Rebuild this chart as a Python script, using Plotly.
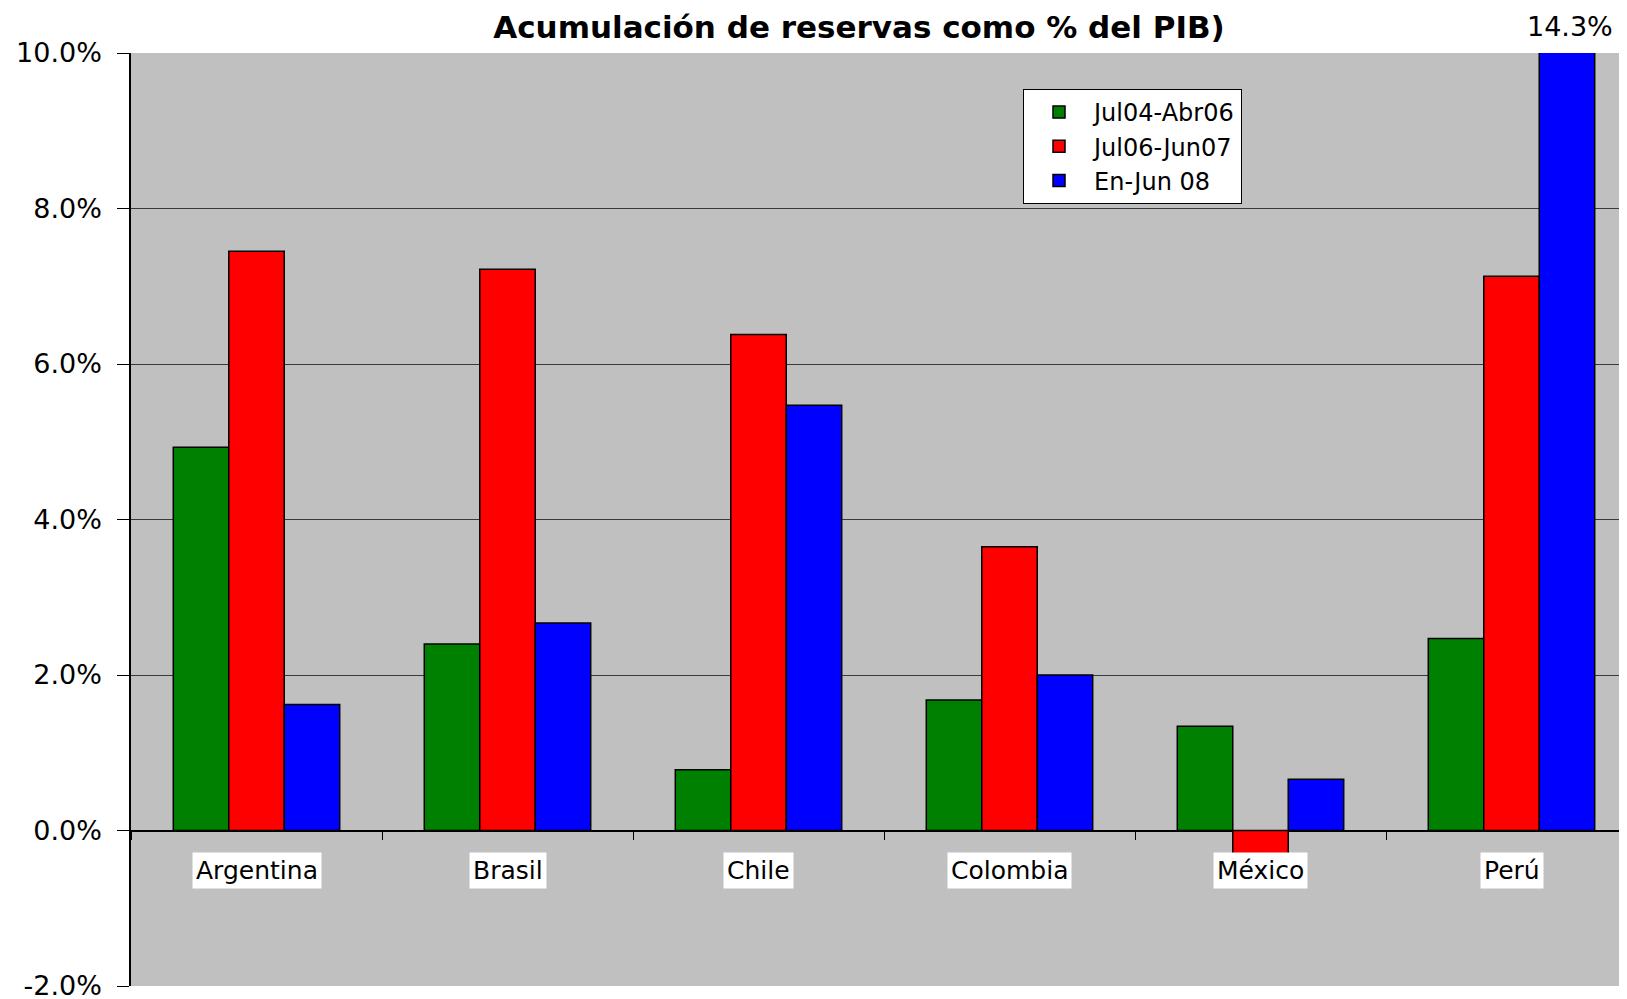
import plotly.graph_objects as go

categories = ["Argentina", "Brasil", "Chile", "Colombia", "México", "Perú"]
series_names = ["Jul04-Abr06", "Jul06-Jun07", "En-Jun 08"]
jul04_abr06 = [4.93, 2.40, 0.78, 1.68, 1.34, 2.47]
jul06_jun07 = [7.45, 7.22, 6.38, 3.65, -0.30, 7.13]
en_jun08 = [1.62, 2.67, 5.47, 2.00, 0.66, 14.3]
colors = ["#008000", "#FF0000", "#0000FF"]
y_ticks = [-2, 0, 2, 4, 6, 8, 10]

FONT = "DejaVu Sans, Liberation Sans, Arial, sans-serif"

W, H = 1627, 999
L, T, B = 123, 45, 21
plot_w = W - L

fig = go.Figure()
for i, (name, vals, col) in enumerate(zip(series_names, [jul04_abr06, jul06_jun07, en_jun08], colors)):
    fig.add_trace(go.Bar(
        x=categories, y=vals, name=name, legendgroup=f"g{i}",
        marker=dict(color=col, line=dict(color="black", width=1.5)),
    ))

annotations = []
for c in categories:
    annotations.append(dict(
        x=c, y=0, xref="x", yref="y", yshift=-40, yanchor="middle",
        text=c, showarrow=False, bgcolor="white", borderpad=3,
        font=dict(family=FONT, size=25, color="black"),
    ))
# out-of-range value label for Perú, third series
annotations.append(dict(
    x=categories[-1], y=10, xref="x", yref="y", xshift=58, yshift=27,
    yanchor="middle", text=f"{en_jun08[-1]:.1f}%", showarrow=False,
    font=dict(family=FONT, size=27, color="black"),
))

fig.update_layout(
    width=W, height=H,
    margin=dict(l=L, r=0, t=T, b=B),
    paper_bgcolor="white", plot_bgcolor="#C0C0C0",
    barmode="group", bargap=0.337, bargroupgap=0,
    font=dict(family=FONT, size=27, color="black"),
    title=dict(
        text="<b>Acumulación de reservas como % del PIB)</b>",
        x=851 / W, xref="container", xanchor="center",
        y=1 - 19 / H, yref="container", yanchor="middle",
        font=dict(family=FONT, size=31, color="black"),
    ),
    legend=dict(
        x=(1015 - L) / plot_w, y=0.9614, xanchor="left", yanchor="top",
        bgcolor="white", bordercolor="black", borderwidth=1,
        font=dict(family=FONT, size=24, color="black"),
        traceorder="normal", tracegroupgap=9, itemwidth=60,
    ),
    annotations=annotations,
    showlegend=True,
)
fig.update_xaxes(
    type="category", range=[-0.5, -0.5 + plot_w / 251],
    anchor="free", position=2 / 12,
    showline=False, showgrid=False, zeroline=False,
    ticks="outside", tickson="boundaries", ticklen=8, tickcolor="black",
    showticklabels=False,
)
fig.update_yaxes(
    range=[-2, 10], tickvals=y_ticks, ticktext=[f"{v:.1f}%" for v in y_ticks],
    showline=True, linecolor="black", linewidth=1.5,
    showgrid=True, gridcolor="#3a3a3a", gridwidth=1,
    zeroline=True, zerolinecolor="black", zerolinewidth=1.5,
    ticks="outside", ticklen=12, tickcolor="black", ticklabelstandoff=10,
    tickfont=dict(family=FONT, size=27, color="black"),
)

fig.write_html("out.html")
